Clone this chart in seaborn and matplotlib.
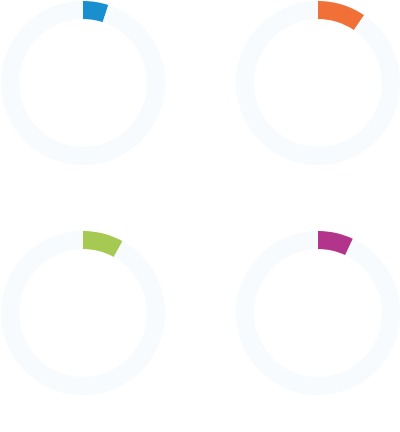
import matplotlib
matplotlib.use("Agg")
import matplotlib.pyplot as plt
import seaborn as sns

sns.set_style("white")

labels = ["A", "B", "C", "D"]
values = [5, 9.5, 8, 7]
colors = ["#1a8fd0", "#f07037", "#a5c951", "#b3358b"]
centers = [(83, 83), (318, 83), (83, 313), (318, 313)]
bg = "#f7fbfe"

W, H = 400, 432
fig = plt.figure(figsize=(W / 100, H / 100), dpi=100)
R = 82
for v, c, (cx, cy) in zip(values, colors, centers):
    ax = fig.add_axes([(cx - R) / W, (H - cy - R) / H, 2 * R / W, 2 * R / H])
    ax.pie([v, 100 - v], colors=[c, bg], startangle=90, counterclock=False,
           radius=1, wedgeprops=dict(width=0.22, linewidth=0))
    ax.set_xlim(-1, 1)
    ax.set_ylim(-1, 1)
    ax.set_aspect("equal")
    ax.axis("off")

fig.savefig("out.png", dpi=100)
